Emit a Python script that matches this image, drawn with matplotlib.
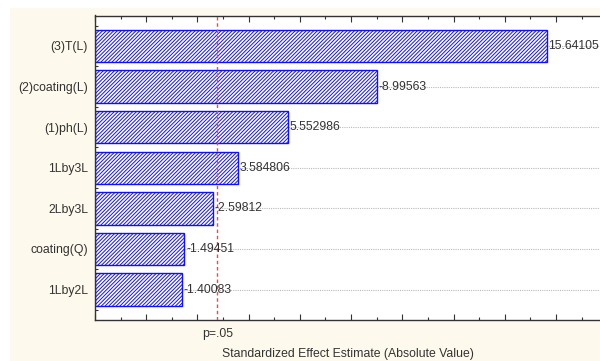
import numpy as np
import matplotlib.pyplot as plt
from matplotlib.patches import Rectangle
from matplotlib.ticker import MultipleLocator

plt.rcParams['font.family'] = ['Liberation Sans', 'DejaVu Sans']
plt.rcParams['hatch.color'] = '#3030ff'
plt.rcParams['hatch.linewidth'] = 0.7

## effects, top to bottom
factors = ['(3)T(L)', '(2)coating(L)', '(1)ph(L)', '1Lby3L', '2Lby3L', 'coating(Q)', '1Lby2L']
effects = [15.64105, -8.99563, 5.552986, 3.584806, -2.59812, -1.49451, -1.40083]
labels = ['15.64105', '-8.99563', '5.552986', '3.584806', '-2.59812', '-1.49451', '-1.40083']
p_crit = 2.776   # t critical, p=.05
x_min, x_max = -2.0, 17.72
fs = 8.8

fig = plt.figure(figsize=(6.0, 3.61), dpi=100)
fig.patch.set_facecolor('white')
# cream panel behind the plot
fig.patches.append(Rectangle((10/600, 0), 590/600, 1 - 8/361, transform=fig.transFigure,
                             facecolor='#fdf9ec', edgecolor='none', zorder=-5))

ax = fig.add_axes([95/600, 1 - 320/361, 1 - 95/600, (320 - 15.5)/361])
ax.set_zorder(2)
ax.set_facecolor('white')

y = np.arange(len(factors))
vals = np.abs(effects)
ax.barh(y, vals - x_min, left=x_min, height=0.8, color='white', edgecolor='#1010ff',
        linewidth=1.0, hatch='/////////', zorder=2)

for yi, v, lab in zip(y, vals, labels):
    ax.text(v + 0.06, yi, lab, va='center', ha='left', fontsize=fs, color='#333333', zorder=4)

ax.axvline(p_crit, color='#f04848', linestyle=(0, (2.5, 2)), linewidth=1.0, zorder=3)

ax.set_xlim(x_min, x_max)
ax.set_ylim(len(factors) - 0.25, -0.75)
ax.set_yticks(y)
ax.set_yticklabels(factors, fontsize=fs, color='#333333')
ax.yaxis.set_minor_locator(MultipleLocator(0.5))
ax.tick_params(axis='y', direction='in', length=2, width=0.8, color='#333333', pad=5)
ax.tick_params(axis='y', which='minor', direction='in', length=2, width=0.8, color='#333333')

ax.xaxis.set_major_locator(MultipleLocator(2))
ax.xaxis.set_minor_locator(MultipleLocator(1))
ax.tick_params(axis='x', which='both', direction='in', top=True, labelbottom=False,
               color='#333333', width=0.8)
ax.tick_params(axis='x', which='major', length=4)
ax.tick_params(axis='x', which='minor', length=2)

ax.grid(axis='y', color='#bbbbbb', linestyle=(0, (1, 1)), linewidth=0.8, zorder=1)
ax.set_axisbelow(True)

for s in ['left', 'bottom', 'top']:
    ax.spines[s].set_color('#333333')
    ax.spines[s].set_linewidth(1.0)
ax.spines['right'].set_visible(False)

ax.text(p_crit, -0.025, 'p=.05', transform=ax.get_xaxis_transform(), ha='center', va='top',
        fontsize=fs, color='#333333')
ax.set_xlabel('Standardized Effect Estimate (Absolute Value)', fontsize=fs, color='#333333',
              labelpad=20)

fig.savefig('out.png', dpi=100)
